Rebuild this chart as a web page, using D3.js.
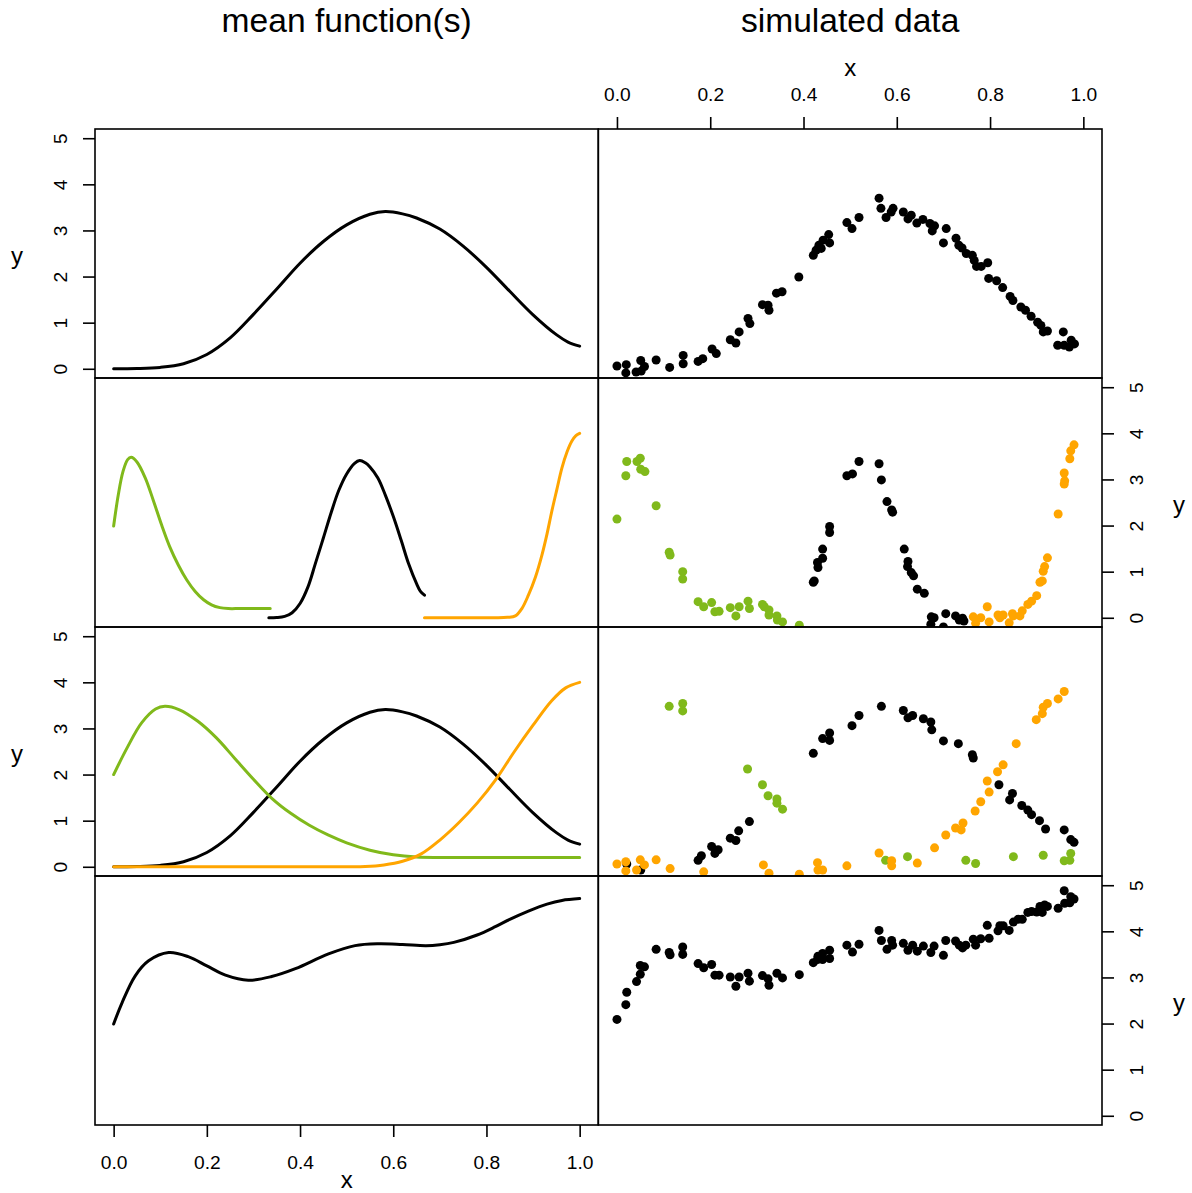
<!DOCTYPE html>
<html>
<head>
<meta charset="utf-8">
<script src="https://cdn.jsdelivr.net/npm/d3@7"></script>
<style>
  html, body { margin: 0; padding: 0; background: #fff; }
  svg { display: block; }
</style>
</head>
<body>
<svg id="chart" width="1192" height="1193"></svg>
<script>
// ---- axis ticks and labels ----
const xTicks = [0, 0.2, 0.4, 0.6, 0.8, 1.0];
const yTicks = [0, 1, 2, 3, 4, 5];
const colTitles = ["mean function(s)", "simulated data"];

// ---- mean functions (left column), [x, y] ----
const mean1 = [[0,0],[0.05,0.005],[0.10,0.03],[0.15,0.11],[0.20,0.31],[0.25,0.67],[0.30,1.18],[0.35,1.73],[0.40,2.29],[0.45,2.76],[0.50,3.12],[0.55,3.35],[0.583,3.41],[0.62,3.36],[0.65,3.27],[0.70,3.03],[0.75,2.66],[0.80,2.20],[0.85,1.68],[0.90,1.17],[0.95,0.74],[0.975,0.58],[1.0,0.49]];

const mean2Green = [[0,1.99],[0.01,2.67],[0.02,3.17],[0.03,3.43],[0.0375,3.48],[0.05,3.38],[0.068,3.03],[0.085,2.55],[0.103,2.01],[0.12,1.55],[0.139,1.14],[0.157,0.82],[0.175,0.57],[0.193,0.39],[0.21,0.28],[0.228,0.22],[0.246,0.20],[0.27,0.20],[0.30,0.20],[0.336,0.20]];
const mean2Black = [[0.333,0],[0.35,0.005],[0.367,0.03],[0.383,0.11],[0.40,0.31],[0.417,0.67],[0.433,1.18],[0.45,1.73],[0.467,2.29],[0.483,2.76],[0.50,3.12],[0.517,3.35],[0.528,3.41],[0.54,3.36],[0.55,3.27],[0.567,3.03],[0.583,2.66],[0.60,2.20],[0.617,1.68],[0.633,1.17],[0.65,0.74],[0.658,0.58],[0.667,0.49]];
const mean2Orange = [[0.667,0],[0.75,0],[0.82,0],[0.845,0.01],[0.862,0.04],[0.876,0.20],[0.89,0.49],[0.905,0.88],[0.919,1.36],[0.93,1.82],[0.94,2.30],[0.951,2.78],[0.962,3.25],[0.973,3.60],[0.983,3.83],[0.992,3.95],[1.0,4.0]];

const mean3Green = [[0,2.0],[0.03,2.60],[0.06,3.12],[0.09,3.42],[0.11,3.48],[0.14,3.41],[0.18,3.16],[0.22,2.80],[0.26,2.35],[0.30,1.90],[0.34,1.48],[0.38,1.16],[0.42,0.90],[0.46,0.69],[0.50,0.52],[0.55,0.36],[0.60,0.26],[0.65,0.21],[0.70,0.20],[0.80,0.20],[0.90,0.20],[1.0,0.20]];
const mean3Black = mean1;
const mean3Orange = [[0,0],[0.25,0],[0.50,0],[0.54,0.005],[0.58,0.04],[0.62,0.12],[0.66,0.28],[0.70,0.58],[0.74,0.95],[0.78,1.38],[0.82,1.89],[0.86,2.50],[0.90,3.07],[0.94,3.60],[0.97,3.88],[1.0,4.0]];

const mean4 = [[0,1.99],[0.018,2.45],[0.046,3.03],[0.075,3.36],[0.118,3.54],[0.16,3.45],[0.20,3.25],[0.24,3.05],[0.289,2.94],[0.339,3.02],[0.39,3.19],[0.461,3.51],[0.518,3.69],[0.568,3.73],[0.62,3.715],[0.67,3.69],[0.70,3.71],[0.73,3.76],[0.78,3.92],[0.819,4.10],[0.85,4.26],[0.89,4.44],[0.93,4.59],[0.962,4.67],[1.0,4.71]];

// ---- simulated observations (right column), [x, y] ----
const sim1 = [[0.0,0.06],[0.02,0.09],[0.019,-0.09],[0.041,-0.07],[0.052,-0.05],[0.051,0.18],[0.059,0.05],[0.084,0.19],[0.113,0.03],[0.142,0.29],[0.142,0.11],[0.174,0.16],[0.184,0.22],[0.204,0.43],[0.213,0.33],[0.243,0.63],[0.255,0.56],[0.262,0.80],[0.281,1.09],[0.285,0.98],[0.312,1.39],[0.324,1.38],[0.326,1.27],[0.342,1.64],[0.354,1.67],[0.39,1.99],[0.421,2.46],[0.427,2.57],[0.433,2.68],[0.438,2.61],[0.442,2.79],[0.454,2.91],[0.456,2.73],[0.493,3.17],[0.504,3.04],[0.519,3.28],[0.562,3.70],[0.566,3.48],[0.577,3.28],[0.588,3.40],[0.592,3.48],[0.614,3.40],[0.624,3.25],[0.631,3.33],[0.643,3.16],[0.656,3.24],[0.671,3.15],[0.676,2.99],[0.681,3.10],[0.70,2.73],[0.706,3.04],[0.727,2.83],[0.733,2.68],[0.74,2.62],[0.749,2.50],[0.762,2.46],[0.766,2.35],[0.771,2.22],[0.781,2.22],[0.795,2.30],[0.797,1.96],[0.814,1.91],[0.827,1.76],[0.843,1.57],[0.849,1.48],[0.866,1.34],[0.876,1.27],[0.888,1.14],[0.902,1.01],[0.909,0.94],[0.914,0.80],[0.923,0.82],[0.957,0.80],[0.945,0.51],[0.959,0.51],[0.97,0.47],[0.974,0.62],[0.981,0.54]];

const sim2Green = [[0.0,2.14],[0.019,3.08],[0.021,3.39],[0.043,3.39],[0.05,3.46],[0.051,3.22],[0.06,3.17],[0.084,2.43],[0.112,1.42],[0.114,1.36],[0.141,1.0],[0.141,0.84],[0.174,0.35],[0.186,0.24],[0.203,0.33],[0.21,0.13],[0.219,0.14],[0.243,0.22],[0.255,0.04],[0.262,0.24],[0.281,0.36],[0.284,0.20],[0.312,0.29],[0.316,0.24],[0.326,0.17],[0.326,0.06],[0.343,0.04],[0.344,-0.05],[0.355,-0.09],[0.391,-0.16]];
const sim2Black = [[0.421,0.77],[0.423,0.80],[0.431,1.09],[0.43,1.20],[0.441,1.29],[0.441,1.49],[0.456,1.85],[0.456,1.98],[0.493,3.08],[0.505,3.12],[0.519,3.39],[0.562,3.34],[0.567,2.99],[0.579,2.52],[0.589,2.34],[0.591,2.29],[0.616,1.49],[0.624,1.22],[0.623,1.11],[0.631,0.98],[0.636,0.91],[0.644,0.62],[0.659,0.53],[0.674,0.02],[0.68,0.0],[0.673,-0.14],[0.705,0.09],[0.70,-0.20],[0.726,0.04],[0.734,-0.05],[0.741,-0.01],[0.744,-0.07]];
const sim2Orange = [[0.764,0.02],[0.769,-0.12],[0.78,0.0],[0.794,0.24],[0.798,-0.09],[0.817,0.06],[0.821,0.0],[0.828,0.06],[0.841,-0.11],[0.848,0.09],[0.85,0.04],[0.864,0.04],[0.869,0.15],[0.881,0.29],[0.889,0.36],[0.90,0.48],[0.907,0.77],[0.912,0.80],[0.914,1.01],[0.917,1.11],[0.923,1.30],[0.946,2.25],[0.959,2.90],[0.96,2.97],[0.959,3.14],[0.971,3.45],[0.973,3.62],[0.98,3.75]];

const sim3Green = [[0.112,3.48],[0.141,3.54],[0.141,3.38],[0.28,2.12],[0.312,1.78],[0.324,1.54],[0.343,1.47],[0.343,1.38],[0.355,1.25],[0.576,0.14],[0.623,0.22],[0.748,0.14],[0.769,0.07],[0.85,0.22],[0.914,0.25],[0.959,0.13],[0.971,0.14],[0.973,0.29]];
const sim3Black = [[0.021,0.06],[0.051,-0.07],[0.174,0.14],[0.181,0.24],[0.203,0.44],[0.21,0.29],[0.217,0.37],[0.243,0.62],[0.255,0.57],[0.261,0.78],[0.284,0.98],[0.421,2.46],[0.441,2.78],[0.456,2.74],[0.456,2.90],[0.504,3.06],[0.519,3.28],[0.567,3.48],[0.614,3.39],[0.624,3.23],[0.634,3.28],[0.657,3.21],[0.673,3.14],[0.675,2.97],[0.70,2.73],[0.732,2.67],[0.762,2.43],[0.764,2.36],[0.819,1.78],[0.848,1.59],[0.842,1.45],[0.868,1.33],[0.881,1.23],[0.889,1.13],[0.906,1.0],[0.919,0.82],[0.959,0.80],[0.973,0.59],[0.98,0.53]];
const sim3Orange = [[0.0,0.06],[0.019,0.11],[0.019,-0.09],[0.042,-0.07],[0.05,0.15],[0.059,0.04],[0.084,0.15],[0.114,-0.04],[0.186,-0.11],[0.314,0.04],[0.326,-0.14],[0.391,-0.16],[0.43,0.09],[0.431,-0.07],[0.441,-0.07],[0.493,0.02],[0.562,0.30],[0.589,0.13],[0.589,0.02],[0.644,0.08],[0.681,0.41],[0.705,0.69],[0.726,0.84],[0.738,0.80],[0.742,0.95],[0.768,1.21],[0.78,1.41],[0.798,1.62],[0.794,1.86],[0.816,2.06],[0.828,2.21],[0.856,2.67],[0.899,3.19],[0.912,3.32],[0.914,3.46],[0.923,3.54],[0.946,3.64],[0.959,3.80]];

const sim4 = [[0.0,2.09],[0.019,2.41],[0.021,2.68],[0.042,2.91],[0.05,3.07],[0.05,3.26],[0.059,3.23],[0.084,3.61],[0.112,3.54],[0.114,3.49],[0.141,3.66],[0.141,3.50],[0.174,3.30],[0.186,3.21],[0.203,3.28],[0.21,3.05],[0.219,3.05],[0.243,3.01],[0.255,2.81],[0.262,3.01],[0.281,3.09],[0.284,2.92],[0.312,3.04],[0.324,2.97],[0.326,2.83],[0.343,3.09],[0.355,2.99],[0.391,3.06],[0.421,3.32],[0.43,3.39],[0.431,3.46],[0.441,3.52],[0.441,3.39],[0.456,3.59],[0.456,3.41],[0.493,3.70],[0.505,3.55],[0.519,3.72],[0.562,4.02],[0.567,3.80],[0.579,3.61],[0.589,3.80],[0.591,3.70],[0.614,3.74],[0.624,3.59],[0.634,3.70],[0.644,3.57],[0.657,3.68],[0.673,3.54],[0.68,3.68],[0.70,3.48],[0.705,3.80],[0.726,3.79],[0.734,3.70],[0.741,3.64],[0.748,3.70],[0.764,3.83],[0.769,3.70],[0.78,3.84],[0.794,4.13],[0.798,3.85],[0.817,4.01],[0.821,4.12],[0.828,4.12],[0.841,4.02],[0.85,4.20],[0.86,4.26],[0.869,4.26],[0.881,4.41],[0.889,4.43],[0.90,4.42],[0.907,4.54],[0.912,4.41],[0.917,4.57],[0.923,4.54],[0.946,4.50],[0.959,4.88],[0.96,4.61],[0.971,4.62],[0.973,4.75],[0.98,4.70]];

// ---- styling ----
const BLACK = "#000000", GREEN = "#80b91b", ORANGE = "#ffa500";
const FONT = '"Liberation Sans", Arial, Helvetica, sans-serif';

// panel geometry: two columns, four rows
const colX = [[95, 598.3], [598.3, 1102]];
const rowY = [129, 378, 627, 876, 1125];

const panels = [
  { lines: [[mean1, BLACK]], points: [[sim1, BLACK]] },
  { lines: [[mean2Black, BLACK], [mean2Green, GREEN], [mean2Orange, ORANGE]],
    points: [[sim2Black, BLACK], [sim2Green, GREEN], [sim2Orange, ORANGE]] },
  { lines: [[mean3Black, BLACK], [mean3Green, GREEN], [mean3Orange, ORANGE]],
    points: [[sim3Black, BLACK], [sim3Green, GREEN], [sim3Orange, ORANGE]] },
  { lines: [[mean4, BLACK]], points: [[sim4, BLACK]] }
];

const svg = d3.select("#chart").style("font-family", FONT);
const defs = svg.append("defs");

const xScale = c => d3.scaleLinear().domain([-0.04, 1.04]).range(colX[c]);
const yScale = r => d3.scaleLinear().domain([-0.2, 5.2]).range([rowY[r + 1], rowY[r]]);

const line = (x, y) => d3.line().x(d => x(d[0])).y(d => y(d[1])).curve(d3.curveCatmullRom.alpha(0.5));

panels.forEach((p, r) => {
  const y = yScale(r);
  [0, 1].forEach(c => {
    const x = xScale(c);
    const id = `clip-${r}-${c}`;
    defs.append("clipPath").attr("id", id).append("rect")
      .attr("x", colX[c][0]).attr("y", rowY[r])
      .attr("width", colX[c][1] - colX[c][0]).attr("height", rowY[r + 1] - rowY[r]);
    const g = svg.append("g").attr("clip-path", `url(#${id})`);
    if (c === 0) {
      p.lines.forEach(([data, col]) => {
        g.append("path").datum(data)
          .attr("d", line(x, y))
          .attr("fill", "none").attr("stroke", col)
          .attr("stroke-width", 3).attr("stroke-linecap", "round");
      });
    } else {
      p.points.forEach(([data, col]) => {
        g.selectAll(null).data(data).enter().append("circle")
          .attr("cx", d => x(d[0])).attr("cy", d => y(d[1]))
          .attr("r", 4.5).attr("fill", col);
      });
    }
  });
});

// panel frames
panels.forEach((p, r) => {
  [0, 1].forEach(c => {
    svg.append("rect")
      .attr("x", colX[c][0]).attr("y", rowY[r])
      .attr("width", colX[c][1] - colX[c][0]).attr("height", rowY[r + 1] - rowY[r])
      .attr("fill", "none").attr("stroke", "#000").attr("stroke-width", 1.6);
  });
});

function styleAxis(g) {
  g.select(".domain").remove();
  g.selectAll(".tick line").attr("stroke", "#000").attr("stroke-width", 1.6);
  g.selectAll(".tick text").attr("fill", "#000").style("font-size", "19.2px").style("font-family", FONT);
}

// y axes: left on rows 1 and 3, right on rows 2 and 4
[0, 1, 2, 3].forEach(r => {
  const y = yScale(r);
  const left = r % 2 === 0;
  const ax = (left ? d3.axisLeft(y) : d3.axisRight(y))
    .tickValues(yTicks).tickFormat(d3.format("d")).tickSize(12).tickSizeOuter(0);
  const g = svg.append("g")
    .attr("transform", `translate(${left ? colX[0][0] : colX[1][1]},0)`)
    .call(ax);
  styleAxis(g);
  g.selectAll(".tick text")
    .attr("x", null).attr("dy", null).attr("dx", null)
    .attr("text-anchor", "middle")
    .attr("transform", `translate(${left ? -28.3 : 41.3},0) rotate(-90)`);
  const mid = (rowY[r] + rowY[r + 1]) / 2;
  svg.append("text")
    .attr("x", left ? 17 : 1179).attr("y", mid + 10)
    .attr("text-anchor", "middle").style("font-size", "24px").text("y");
});

// x axis on top of the right column
{
  const x = xScale(1);
  const g = svg.append("g").attr("transform", `translate(0,${rowY[0]})`)
    .call(d3.axisTop(x).tickValues(xTicks).tickFormat(d3.format(".1f")).tickSize(12).tickSizeOuter(0));
  styleAxis(g);
  g.selectAll(".tick text").attr("y", -28.5).attr("dy", null);
  svg.append("text").attr("x", (colX[1][0] + colX[1][1]) / 2).attr("y", 76)
    .attr("text-anchor", "middle").style("font-size", "24px").text("x");
}

// x axis below the left column
{
  const x = xScale(0);
  const g = svg.append("g").attr("transform", `translate(0,${rowY[4]})`)
    .call(d3.axisBottom(x).tickValues(xTicks).tickFormat(d3.format(".1f")).tickSize(12).tickSizeOuter(0));
  styleAxis(g);
  g.selectAll(".tick text").attr("y", 43.5).attr("dy", null);
  svg.append("text").attr("x", (colX[0][0] + colX[0][1]) / 2).attr("y", 1188)
    .attr("text-anchor", "middle").style("font-size", "24px").text("x");
}

// column titles
colTitles.forEach((t, c) => {
  svg.append("text")
    .attr("x", (colX[c][0] + colX[c][1]) / 2).attr("y", 32)
    .attr("text-anchor", "middle").style("font-size", "33.6px").text(t);
});
</script>
</body>
</html>
